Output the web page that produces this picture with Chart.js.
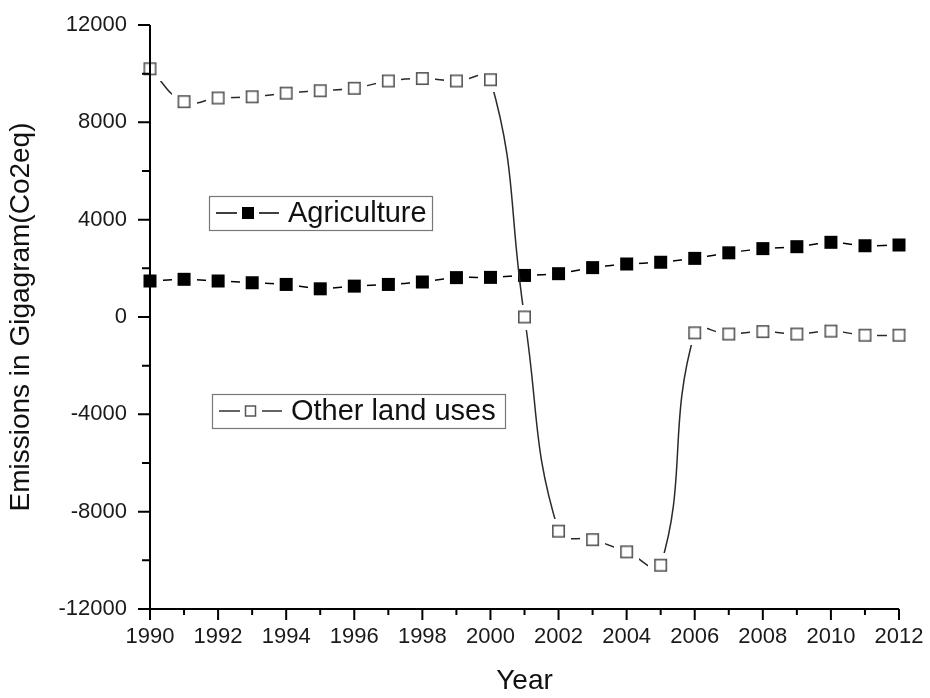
<!DOCTYPE html>
<html>
<head>
<meta charset="utf-8">
<script src="https://cdn.jsdelivr.net/npm/chart.js@4.4.0/dist/chart.umd.min.js"></script>
<style>
  html, body { margin: 0; padding: 0; background: #fff; }
  #wrap { width: 930px; height: 698px; }
</style>
</head>
<body>
<div id="wrap"><canvas id="emissions"></canvas></div>
<script>
// values (Gigagram Co2eq)
const years = [1990, 1991, 1992, 1993, 1994, 1995, 1996, 1997, 1998, 1999, 2000, 2001,
               2002, 2003, 2004, 2005, 2006, 2007, 2008, 2009, 2010, 2011, 2012];
const agriculture = [1480, 1550, 1480, 1410, 1340, 1160, 1270, 1340, 1440, 1620, 1630, 1710,
                     1780, 2030, 2180, 2250, 2410, 2640, 2810, 2890, 3070, 2930, 2960];
const other_land = [10200, 8850, 9000, 9050, 9200, 9300, 9400, 9700, 9800, 9700, 9750, 0,
                    -8800, -9150, -9650, -10200, -650, -700, -600, -700, -580, -750, -750];
const x_labels = [1990, 1992, 1994, 1996, 1998, 2000, 2002, 2004, 2006, 2008, 2010, 2012];
const y_labels = [-12000, -8000, -4000, 0, 4000, 8000, 12000];

const font_family = 'Arial, "Liberation Sans", sans-serif';

// marker with a white halo so the line stops short of it, like the original
function make_marker(size, gap, filled) {
  const c = document.createElement('canvas');
  const full = size + gap * 2;
  c.width = full;
  c.height = full;
  const g = c.getContext('2d');
  g.fillStyle = '#fff';
  g.fillRect(0, 0, full, full);
  if (filled) {
    g.fillStyle = '#000';
    g.fillRect(gap, gap, size, size);
  } else {
    g.strokeStyle = '#555';
    g.lineWidth = 1.6;
    g.strokeRect(gap + 0.8, gap + 0.8, size - 1.6, size - 1.6);
  }
  return c;
}

const filled_marker = make_marker(13, 6, true);
const open_marker = make_marker(13, 6, false);

function draw_legend_box(ctx, box, filled, text) {
  ctx.save();
  ctx.fillStyle = '#fff';
  ctx.fillRect(box.x, box.y, box.w, box.h);
  ctx.strokeStyle = '#777';
  ctx.lineWidth = 1.2;
  ctx.strokeRect(box.x + 0.5, box.y + 0.5, box.w, box.h);
  const cy = box.y + box.h / 2;
  ctx.strokeStyle = filled ? '#000' : '#333';
  ctx.lineWidth = 1.5;
  ctx.beginPath();
  ctx.moveTo(box.x + 7, cy);
  ctx.lineTo(box.x + 28, cy);
  ctx.moveTo(box.x + 50, cy);
  ctx.lineTo(box.x + 70, cy);
  ctx.stroke();
  if (filled) {
    ctx.fillStyle = '#000';
    ctx.fillRect(box.x + 33, cy - 6, 12, 12);
  } else {
    ctx.strokeStyle = '#555';
    ctx.strokeRect(box.x + 33.5, cy - 5, 10, 10);
  }
  ctx.fillStyle = '#111';
  ctx.font = '29px ' + font_family;
  ctx.textBaseline = 'middle';
  ctx.textAlign = 'left';
  ctx.fillText(text, box.x + 79, cy + 1);
  ctx.restore();
}

const axes_plugin = {
  id: 'axes_plugin',
  afterDatasetsDraw(chart) {
    const ctx = chart.ctx;
    const area = chart.chartArea;
    const xs = chart.scales.x;
    const ys = chart.scales.y;
    ctx.save();
    ctx.strokeStyle = '#000';
    ctx.lineWidth = 2;
    ctx.beginPath();
    ctx.moveTo(area.left, area.top);
    ctx.lineTo(area.left, area.bottom);
    ctx.lineTo(area.right, area.bottom);
    ctx.stroke();
    ctx.beginPath();
    xs.ticks.forEach(t => {
      const px = xs.getPixelForValue(t.value);
      const len = x_labels.includes(t.value) ? 11 : 6;
      ctx.moveTo(px, area.bottom);
      ctx.lineTo(px, area.bottom + len);
    });
    ys.ticks.forEach(t => {
      const py = ys.getPixelForValue(t.value);
      const len = y_labels.includes(t.value) ? 12 : 8;
      ctx.moveTo(area.left, py);
      ctx.lineTo(area.left - len, py);
    });
    ctx.stroke();
    ctx.restore();
  },
  afterDraw(chart) {
    const ctx = chart.ctx;
    draw_legend_box(ctx, {x: 209, y: 196, w: 223, h: 34}, true, 'Agriculture');
    draw_legend_box(ctx, {x: 212, y: 394, w: 293, h: 34}, false, 'Other land uses');
  }
};

const chart_el = document.getElementById('emissions');

new Chart(chart_el, {
  type: 'line',
  data: {
    datasets: [{
      label: 'Agriculture',
      data: years.map((yr, i) => ({x: yr, y: agriculture[i]})),
      borderColor: '#000',
      borderWidth: 1.5,
      tension: 0.2,
      pointStyle: filled_marker,
      order: 2,
      clip: false
    }, {
      label: 'Other land uses',
      data: years.map((yr, i) => ({x: yr, y: other_land[i]})),
      borderColor: '#2a2a2a',
      borderWidth: 1.5,
      tension: 0.45,
      pointStyle: open_marker,
      order: 1,
      clip: false
    }]
  },
  options: {
    responsive: true,
    maintainAspectRatio: false,
    animation: false,
    layout: {
      padding: {top: 25, right: 31, bottom: 0, left: 0}
    },
    plugins: {
      legend: { display: false },
      tooltip: { enabled: false }
    },
    scales: {
      x: {
        type: 'linear',
        min: 1990,
        max: 2012,
        border: { display: false },
        grid: { display: false, drawTicks: false },
        ticks: {
          stepSize: 1,
          autoSkip: false,
          maxRotation: 0,
          padding: 15,
          color: '#1a1a1a',
          font: { size: 22, family: font_family },
          callback: v => x_labels.includes(v) ? String(v) : ''
        },
        title: {
          display: true,
          text: 'Year',
          color: '#111',
          font: { size: 28, family: font_family },
          padding: { top: 0, bottom: 0 }
        },
        afterFit: s => {
          s.height = 89;
          s.paddingLeft = 0;
          s.paddingRight = 0;
        }
      },
      y: {
        min: -12000,
        max: 12000,
        border: { display: false },
        grid: { display: false, drawTicks: false },
        ticks: {
          stepSize: 2000,
          autoSkip: false,
          padding: 23,
          color: '#1a1a1a',
          font: { size: 22, family: font_family },
          callback: v => y_labels.includes(v) ? String(v) : ''
        },
        title: {
          display: true,
          text: 'Emissions in Gigagram(Co2eq)',
          color: '#111',
          font: { size: 28, family: font_family },
          padding: { top: 4, bottom: 0 }
        },
        afterFit: s => {
          s.width = 150;
          s.paddingTop = 0;
          s.paddingBottom = 0;
        }
      }
    }
  },
  plugins: [axes_plugin]
});
</script>
</body>
</html>
